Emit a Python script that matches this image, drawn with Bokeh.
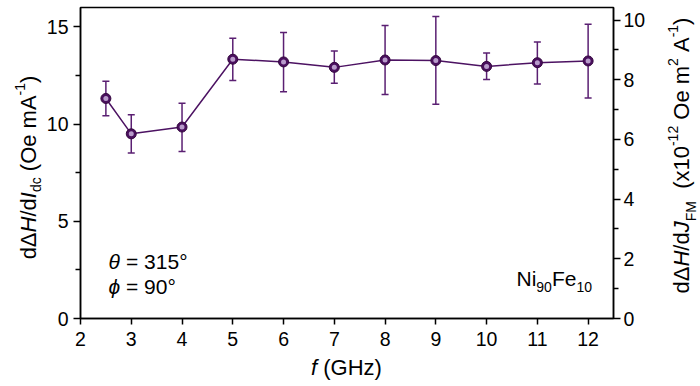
from math import pi
from bokeh.plotting import figure
from bokeh.layouts import row, column
from bokeh.models import (Range1d, LinearAxis, FixedTicker, Whisker, TeeHead,
                          ColumnDataSource, Label)
from bokeh.embed import file_html
from bokeh.resources import INLINE

# ---- data ----
freq = [2.5, 3, 4, 5, 6, 7, 8, 9, 10, 11, 12]
slope = [11.32, 9.50, 9.85, 13.34, 13.20, 12.92, 13.30, 13.27, 12.97, 13.16, 13.25]
err_upper = [12.20, 10.48, 11.08, 14.42, 14.71, 13.76, 15.07, 15.54, 13.66, 14.23, 15.14]
err_lower = [10.43, 8.52, 8.59, 12.25, 11.67, 12.10, 11.53, 11.02, 12.29, 12.06, 11.34]

x_ticks = [2, 3, 4, 5, 6, 7, 8, 9, 10, 11, 12]
left_ticks = [0, 5, 10, 15]
left_minor = [2.5, 7.5, 12.5]
right_ticks = [0, 2, 4, 6, 8, 10]
right_minor = [1, 3, 5, 7, 9]

FONT = "Liberation Sans"
PURPLE = "#4c1262"
BAR = "#5a1f72"

LW, MW, RW = 43, 617, 40      # left label / main / right label widths
MH, BH = 354, 32              # main height / bottom label strip height
TOP, BOT = 7, 36              # main frame borders (frame spans y 7..318)

p = figure(width=MW, height=MH, output_backend="svg", toolbar_location=None,
           x_range=Range1d(2, 12.5), y_range=Range1d(0, 16),
           min_border_left=34, min_border_right=47, min_border_top=TOP,
           min_border_bottom=BOT)
p.background_fill_color = "white"
p.border_fill_color = "white"
p.outline_line_color = "black"
p.outline_line_width = 1.5
p.xgrid.visible = False
p.ygrid.visible = False

p.extra_y_ranges = {"right": Range1d(0, 10.42)}
raxis = LinearAxis(y_range_name="right")
p.add_layout(raxis, "right")

p.xaxis.ticker = FixedTicker(ticks=x_ticks, minor_ticks=[])
p.yaxis[0].ticker = FixedTicker(ticks=left_ticks, minor_ticks=left_minor)
raxis.ticker = FixedTicker(ticks=right_ticks, minor_ticks=right_minor)

for ax in [p.xaxis[0], p.yaxis[0], raxis]:
    ax.axis_line_color = "black"
    ax.axis_line_width = 1.5
    ax.major_tick_line_color = "black"
    ax.minor_tick_line_color = "black"
    ax.major_tick_line_width = 1.5
    ax.minor_tick_line_width = 1.5
    ax.major_tick_in = 0
    ax.minor_tick_in = 0
    ax.major_label_text_font = FONT
    ax.major_label_text_font_size = "19.5px"
    ax.major_label_text_color = "black"

p.xaxis[0].major_tick_out = 6
p.xaxis[0].major_label_standoff = 7
p.yaxis[0].major_tick_out = 7
p.yaxis[0].minor_tick_out = 5
p.yaxis[0].major_label_standoff = 5
raxis.major_tick_out = 7
raxis.minor_tick_out = 5
raxis.major_label_standoff = 3

src = ColumnDataSource(dict(x=freq, y=slope, upper=err_upper, lower=err_lower))

wh = Whisker(source=src, base="x", upper="upper", lower="lower",
             line_color=BAR, line_width=1.5,
             upper_head=TeeHead(size=7, line_color=BAR, line_width=1.5),
             lower_head=TeeHead(size=7, line_color=BAR, line_width=1.5))
p.add_layout(wh)

p.line("x", "y", source=src, line_color=PURPLE, line_width=1.5)
p.scatter("x", "y", source=src, size=10, fill_color="#4a0f5e",
          line_color="#35083f", line_width=1)
p.scatter("x", "y", source=src, size=5, fill_color="#b89bcb",
          line_color=None)


def side(w):
    # frame borders match the main plot so data units equal pixels
    # (data y = MH - window y) whether or not the row aligns the frames
    f = figure(width=w, height=MH, output_backend="svg", toolbar_location=None,
               x_range=Range1d(0, w), y_range=Range1d(MH - (MH - BOT), MH - TOP),
               x_axis_type=None, y_axis_type=None,
               min_border_left=0, min_border_right=0, min_border_top=TOP,
               min_border_bottom=BOT)
    f.outline_line_color = None
    f.background_fill_color = "white"
    f.border_fill_color = "white"
    return f


left = side(LW)
right = side(RW)
# fix y range so that data y = MH - window y
left.y_range = Range1d(BOT, MH - TOP)
right.y_range = Range1d(BOT, MH - TOP)

bottom = figure(width=LW + MW + RW, height=BH, output_backend="svg",
                toolbar_location=None, x_range=Range1d(0, LW + MW + RW),
                y_range=Range1d(0, BH), x_axis_type=None, y_axis_type=None,
                min_border_left=0, min_border_right=0, min_border_top=0,
                min_border_bottom=0)
bottom.outline_line_color = None

# ---- rich text helper (Arial / Liberation Sans advance widths) ----
W = {'d': 556, 'Δ': 668, 'H': 722, '/': 278, 'I': 278, 'c': 500, ' ': 278,
     '(': 333, ')': 333, 'O': 778, 'e': 556, 'm': 833, 'A': 667, '-': 333,
     '1': 556, '2': 556, '0': 556, 'x': 500, 'J': 500, 'F': 611, 'M': 833,
     'N': 722, 'i': 222, '9': 556, 'f': 278, 'G': 778, 'z': 500, 'θ': 556,
     'ϕ': 556, '=': 584, '3': 556, '5': 556, '°': 400}
MID = 0.35   # distance (em) from alphabetic baseline up to text middle


def tw(t, s):
    return sum(W.get(c, 556) for c in t) * s / 1000.0


def rich_side(fig, segs, bx, by, vertical=False, center=False):
    """Strips use data units equal to pixels; (bx, by) is the baseline start."""
    total = sum(tw(t, s) for t, s, it, sh in segs)
    pos = -total / 2 if center else 0.0
    for t, s, it, sh in segs:
        lead = len(t) - len(t.lstrip(" "))
        txt = t.lstrip(" ")
        off = pos + tw(" " * lead, s)
        kw = dict(text=txt, text_font=FONT,
                  text_font_size=f"{s}px", text_color="black",
                  text_font_style="italic" if it else "normal",
                  text_align="left", text_baseline="middle")
        lift = sh + MID * s
        if vertical:
            lab = Label(x=bx - lift, y=by + off, angle=pi / 2, **kw)
        else:
            lab = Label(x=bx + off, y=by + lift, **kw)
        fig.add_layout(lab)
        pos += tw(t, s)


def rich(fig, segs, ax, ay, xo, yo):
    """Main-plot annotations: data anchor + pixel offsets to baseline start."""
    pos = 0.0
    for t, s, it, sh in segs:
        lead = len(t) - len(t.lstrip(" "))
        txt = t.lstrip(" ")
        off = pos + tw(" " * lead, s)
        lab = Label(x=ax, y=ay, x_offset=xo + off, y_offset=yo + sh + MID * s,
                    text=txt, text_font=FONT, text_font_size=f"{s}px",
                    text_color="black",
                    text_font_style="italic" if it else "normal",
                    text_align="left", text_baseline="middle")
        fig.add_layout(lab)
        pos += tw(t, s)


L, S = 22, 14
left_label = [("d", L, False, 0), ("Δ", L, False, 0), ("H", L, True, 0),
              ("/d", L, False, 0), ("I", L, True, 0), ("dc", S, False, -4),
              (" (Oe mA", L, False, 0), ("-1", S, False, 12), (")", L, False, 0)]
# baseline at window x=36, centred at window y=167
rich_side(left, left_label, 36, MH - 167, vertical=True, center=True)

right_label = [("d", L, False, 0), ("Δ", L, False, 0), ("H", L, True, 0),
               ("/d", L, False, 0), ("J", L, True, 0), ("FM", S, False, -6),
               ("  (x10", L, False, 0), ("-12", S, False, 12), (" Oe m", L, False, 0),
               ("2", S, False, 12), (" A", L, False, 0), ("-1", S, False, 12),
               (")", L, False, 0)]
# baseline at window x=689, centred at window y=155
rich_side(right, right_label, 689 - (LW + MW), MH - 155, vertical=True, center=True)

bottom_label = [("f", L, True, 0), (" (GHz)", L, False, 0)]
rich_side(bottom, bottom_label, 346, (MH + BH) - 375, center=True)

A = 21
rich(p, [("θ", A, True, 0), (" = 315°", A, False, 0)], 2, 0, 28, 50)
rich(p, [("ϕ", A, True, 0), (" = 90°", A, False, 0)], 2, 0, 28, 25)
rich(p, [("Ni", A, False, 0), ("90", S, False, -6), ("Fe", A, False, 0),
         ("10", S, False, -6)], 2, 0, 436, 33)

layout = column(row(left, p, right), bottom)

open("out.html", "w").write(file_html(layout, INLINE))
